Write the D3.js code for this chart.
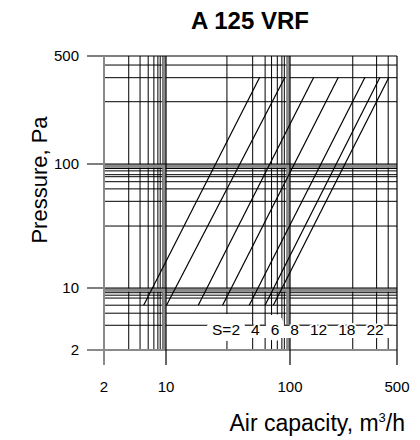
<!DOCTYPE html>
<html>
<head>
<meta charset="utf-8">
<script src="https://cdn.jsdelivr.net/npm/d3@7"></script>
<style>
  body { margin: 0; background: #fff; }
  text { font-family: "Liberation Sans", Arial, Helvetica, sans-serif; fill: #000; }
</style>
</head>
<body>
<svg id="chart" width="420" height="440"></svg>
<script>
// axis ticks (both axes use the same labelled values)
const tickValues = [2, 10, 100, 500];

// grid lines, per axis segment
const xGridLow  = [3.8, 5.1, 6.3, 7.3, 8.1, 8.6, 9.2];
const xGridMid  = [31, 50, 63, 71, 79, 86, 90, 95];
const xGridHigh = [257, 368, 438];
const yGridLow  = [3.8, 5.2, 6.4, 7.7, 8.3, 8.85, 9.3];
const yGridMid  = [31.6, 50, 63, 72, 79, 82, 88, 92, 95];
const yGridHigh = [253, 362, 437];
const decades   = [10, 100];

// damper setting curves: air flow at lowest and highest pressure
const sValues    = [2, 4, 6, 8, 12, 18, 22];
const flowAtLow  = [5.6, 10.1, 18.2, 28.6, 46.9, 62.9, 73.4];
const flowAtHigh = [57, 91, 143, 207, 309, 387, 443];
const pressureEnds = [6.4, 364];

const svg = d3.select('#chart');

// piecewise log scales (the sheet squeezes the outer part-decades)
const x = d3.scaleLog().domain(tickValues).range([104, 166, 290, 397]);
const y = d3.scaleLog().domain(tickValues).range([350, 288, 164, 56]);

const grey = '#8a8a8a';
const grid = svg.append('g');

// vertical grid
const xGrid = [...xGridLow, ...xGridMid, ...xGridHigh];
grid.selectAll('.vgrid').data(xGrid).join('line')
  .attr('class', 'vgrid')
  .attr('x1', d => x(d)).attr('x2', d => x(d))
  .attr('y1', y(500)).attr('y2', y(2))
  .attr('stroke', '#000').attr('stroke-width', 1);

// horizontal grid
const yGrid = [...yGridLow, ...yGridMid, ...yGridHigh];
grid.selectAll('.hgrid').data(yGrid).join('line')
  .attr('class', 'hgrid')
  .attr('x1', x(2)).attr('x2', x(500))
  .attr('y1', d => y(d)).attr('y2', d => y(d))
  .attr('stroke', '#000').attr('stroke-width', 1);

// heavy decade lines: grey band on the lower side plus black line
grid.selectAll('.vdec').data(decades).join('line')
  .attr('class', 'vdec')
  .attr('x1', d => x(d) - 2).attr('x2', d => x(d) - 2)
  .attr('y1', y(500)).attr('y2', y(2))
  .attr('stroke', grey).attr('stroke-width', 3.5);
grid.selectAll('.hdec').data(decades).join('line')
  .attr('class', 'hdec')
  .attr('x1', x(2)).attr('x2', x(500))
  .attr('y1', d => y(d) + 2).attr('y2', d => y(d) + 2)
  .attr('stroke', grey).attr('stroke-width', 3.5);

// axis lines and ticks, extended past the frame
const yTicks = svg.append('g');
yTicks.selectAll('line').data(tickValues).join('line')
  .attr('x1', 87).attr('x2', x(500))
  .attr('y1', d => y(d)).attr('y2', d => y(d))
  .attr('stroke', d => d === 2 ? grey : '#000')
  .attr('stroke-width', d => d === 2 ? 2 : 1.2);
yTicks.selectAll('text').data(tickValues).join('text')
  .attr('x', 79).attr('y', d => y(d)).attr('dy', '0.35em')
  .attr('text-anchor', 'end').attr('font-size', 15)
  .text(d => d);

const xTicks = svg.append('g');
xTicks.selectAll('line').data(tickValues).join('line')
  .attr('x1', d => x(d)).attr('x2', d => x(d))
  .attr('y1', y(500)).attr('y2', 365)
  .attr('stroke', d => d === 2 ? grey : '#000')
  .attr('stroke-width', d => d === 2 ? 2 : 1.2);
xTicks.selectAll('text').data(tickValues).join('text')
  .attr('x', d => x(d)).attr('y', 392)
  .attr('text-anchor', 'middle').attr('font-size', 15)
  .text(d => d);

// S curves
const curves = sValues.map((s, i) => ({ s, lo: flowAtLow[i], hi: flowAtHigh[i] }));
svg.append('g').selectAll('line').data(curves).join('line')
  .attr('x1', d => x(d.lo)).attr('y1', y(pressureEnds[0]))
  .attr('x2', d => x(d.hi)).attr('y2', y(pressureEnds[1]))
  .attr('stroke', '#000').attr('stroke-width', 1.2);

// S labels in a white strip near the bottom
const labelG = svg.append('g');
const baseline = 335;
const labels = labelG.selectAll('text').data(curves).join('text')
  .attr('y', baseline).attr('font-size', 15.5)
  .text((d, i) => i === 0 ? `S=${d.s}` : `${d.s}`);
let cursor = 212;
labels.each(function() {
  d3.select(this).attr('x', cursor);
  cursor += this.getComputedTextLength() + 11;
});
const boxes = labels.nodes().map(n => n.getBBox());
const first = boxes[0], last = boxes[boxes.length - 1];
labelG.insert('rect', 'text')
  .attr('x', first.x - 5).attr('y', y(3.8) - 0.5)
  .attr('width', last.x + last.width + 9 - (first.x - 5))
  .attr('height', baseline + 3.5 - y(3.8))
  .attr('fill', '#fff');
labelG.insert('line', 'text')
  .attr('x1', first.x - 5).attr('x2', last.x + last.width + 9)
  .attr('y1', y(3.8)).attr('y2', y(3.8))
  .attr('stroke', '#000').attr('stroke-width', 1);
// rounder white halos behind the busiest labels
[0, 2].forEach(i => {
  const b = boxes[i];
  labelG.insert('ellipse', 'text')
    .attr('cx', b.x + b.width / 2).attr('cy', b.y + b.height / 2 - 2)
    .attr('rx', b.width / 2 + 5).attr('ry', b.height / 2 + 5)
    .attr('fill', '#fff');
});
labels.attr('stroke', '#fff').attr('stroke-width', 4)
  .attr('paint-order', 'stroke');

// titles
svg.append('text')
  .attr('x', 250).attr('y', 29)
  .attr('text-anchor', 'middle')
  .attr('font-size', 24).attr('font-weight', 'bold')
  .text('A 125 VRF');

svg.append('text')
  .attr('transform', 'translate(47,180) rotate(-90)')
  .attr('text-anchor', 'middle')
  .attr('font-size', 22)
  .text('Pressure, Pa');

const xl = svg.append('text')
  .attr('x', 405).attr('y', 431)
  .attr('text-anchor', 'end')
  .attr('font-size', 23);
xl.append('tspan').text('Air capacity, m');
xl.append('tspan').attr('font-size', 13).attr('dy', -9).text('3');
xl.append('tspan').attr('dy', 9).text('/h');
</script>
</body>
</html>
